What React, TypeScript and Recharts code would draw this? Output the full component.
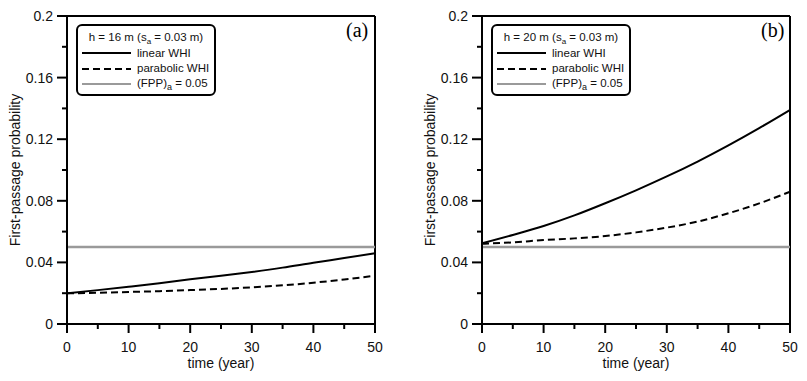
import { LineChart, Line, XAxis, YAxis, ReferenceLine } from 'recharts';

const years = [0, 5, 10, 15, 20, 25, 30, 35, 40, 45, 50];

// panel (a): h = 16 m
const linearA = [0.02, 0.022, 0.0242, 0.0265, 0.029, 0.0313, 0.0338, 0.0366, 0.0398, 0.0428, 0.0459];
const parabolicA = [0.0199, 0.0203, 0.0208, 0.0213, 0.022, 0.0228, 0.0238, 0.0251, 0.0268, 0.0289, 0.0314];

// panel (b): h = 20 m
const linearB = [0.0524, 0.0578, 0.0636, 0.0705, 0.0784, 0.0868, 0.0958, 0.1055, 0.116, 0.1272, 0.139];
const parabolicB = [0.0521, 0.053, 0.0545, 0.0556, 0.0571, 0.0595, 0.0626, 0.0665, 0.0719, 0.0783, 0.0859];

const fppLimit = 0.05;

const xTicks = [0, 5, 10, 15, 20, 25, 30, 35, 40, 45, 50];
const yTicks = [0, 0.02, 0.04, 0.06, 0.08, 0.1, 0.12, 0.14, 0.16, 0.18, 0.2];

const FONT = 'Arial, "Liberation Sans", sans-serif';
const GRAY = '#9a9a9a';

const XTick = ({ x, y, index, payload }: any) => {
  const major = index % 2 === 0;
  return (
    <g>
      <line x1={x} x2={x} y1={y} y2={y + (major ? 9 : 5)} stroke="#000" strokeWidth={2} />
      {major && (
        <text x={x} y={y + 23} textAnchor="middle" dominantBaseline="central" fontSize={14} fontFamily={FONT} fill="#111">
          {payload.value}
        </text>
      )}
    </g>
  );
};

const YTick = ({ x, y, index, payload }: any) => {
  const major = index % 2 === 0;
  return (
    <g>
      <line x1={x} x2={x - (major ? 10 : 5)} y1={y} y2={y} stroke="#000" strokeWidth={2} />
      {major && (
        <text x={x - 14} y={y} textAnchor="end" dominantBaseline="central" fontSize={14} fontFamily={FONT} fill="#111">
          {String(Number(payload.value.toFixed(2)))}
        </text>
      )}
    </g>
  );
};

const YTitle = ({ viewBox }: any) => {
  const cx = viewBox.x - 2;
  const cy = viewBox.y + viewBox.height / 2;
  return (
    <text x={cx} y={cy} transform={`rotate(-90, ${cx}, ${cy})`} textAnchor="middle" dominantBaseline="central" fontSize={14} fontFamily={FONT} fill="#111">
      First-passage probability
    </text>
  );
};

const XTitle = ({ viewBox }: any) => (
  <text x={viewBox.x + viewBox.width / 2} y={viewBox.y + 39} textAnchor="middle" dominantBaseline="central" fontSize={14} fontFamily={FONT} fill="#111">
    time (year)
  </text>
);

const Sample = ({ dash, color }: { dash?: string; color: string }) => (
  <svg width={49} height={6} style={{ display: 'block', flex: 'none' }}>
    <line x1={0} x2={49} y1={3} y2={3} stroke={color} strokeWidth={2} strokeDasharray={dash} />
  </svg>
);

const subStyle = { fontSize: 8, position: 'relative', top: 3 } as const;

function LegendBox({ h, left }: { h: number; left: number }) {
  const row = { display: 'flex', alignItems: 'center', height: 15.5 } as const;
  return (
    <div
      style={{
        position: 'absolute',
        left,
        top: 24,
        width: 132,
        height: 64,
        border: '2px solid #000',
        borderRadius: 6,
        fontFamily: FONT,
        fontSize: 11.5,
        color: '#111',
        padding: '4px 0 0 4px',
        boxSizing: 'content-box',
        lineHeight: '15px',
        whiteSpace: 'nowrap',
      }}
    >
      <div style={{ textAlign: 'center', paddingRight: 4, height: 15.5 }}>
        h = {h} m (s<span style={subStyle}>a</span> = 0.03 m)
      </div>
      <div style={row}>
        <Sample color="#000" />
        <span style={{ marginLeft: 6 }}>linear WHI</span>
      </div>
      <div style={row}>
        <Sample color="#000" dash="7 4" />
        <span style={{ marginLeft: 6 }}>parabolic WHI</span>
      </div>
      <div style={row}>
        <Sample color={GRAY} />
        <span style={{ marginLeft: 6 }}>
          (FPP)<span style={{ ...subStyle, fontSize: 9 }}>a</span> = 0.05
        </span>
      </div>
    </div>
  );
}

function Panel({ linear, parabolic, width }: { linear: number[]; parabolic: number[]; width: number }) {
  const data = years.map((t, i) => ({ t, linear: linear[i], parabolic: parabolic[i] }));
  return (
    <LineChart width={width} height={381} data={data} margin={{ top: 16, right: width - 375, left: 17, bottom: 0 }}>
      <XAxis
        dataKey="t"
        type="number"
        domain={[0, 50]}
        ticks={xTicks}
        tickSize={0}
        tickMargin={0}
        tickLine={false}
        tick={<XTick />}
        height={57}
        axisLine={{ stroke: '#000', strokeWidth: 2 }}
        label={<XTitle />}
        interval={0}
      />
      <YAxis
        type="number"
        domain={[0, 0.2]}
        ticks={yTicks}
        tickSize={0}
        tickMargin={0}
        tickLine={false}
        tick={<YTick />}
        width={50}
        axisLine={{ stroke: '#000', strokeWidth: 2 }}
        label={<YTitle />}
        interval={0}
      />
      <ReferenceLine y={0.2} stroke="#000" strokeWidth={2} />
      <ReferenceLine x={50} stroke="#000" strokeWidth={2} />
      <ReferenceLine y={fppLimit} stroke={GRAY} strokeWidth={2.5} />
      <Line type="monotone" dataKey="linear" stroke="#000" strokeWidth={2} dot={false} isAnimationActive={false} />
      <Line type="monotone" dataKey="parabolic" stroke="#000" strokeWidth={2} strokeDasharray="7 4" dot={false} isAnimationActive={false} />
    </LineChart>
  );
}

export default function App() {
  return (
    <div style={{ position: 'absolute', left: 0, top: 0, width: 807, height: 381, overflow: 'hidden', background: '#fff' }}>
      <div style={{ position: 'absolute', left: 0, top: 0 }}>
        <Panel linear={linearA} parabolic={parabolicA} width={400} />
      </div>
      <div style={{ position: 'absolute', left: 415, top: 0 }}>
        <Panel linear={linearB} parabolic={parabolicB} width={392} />
      </div>
      <LegendBox h={16} left={76} />
      <LegendBox h={20} left={491} />
      <div style={{ position: 'absolute', left: 346, top: 19, fontFamily: '"Liberation Serif", "Times New Roman", serif', fontSize: 20 }}>(a)</div>
      <div style={{ position: 'absolute', left: 761, top: 19, fontFamily: '"Liberation Serif", "Times New Roman", serif', fontSize: 20 }}>(b)</div>
    </div>
  );
}
